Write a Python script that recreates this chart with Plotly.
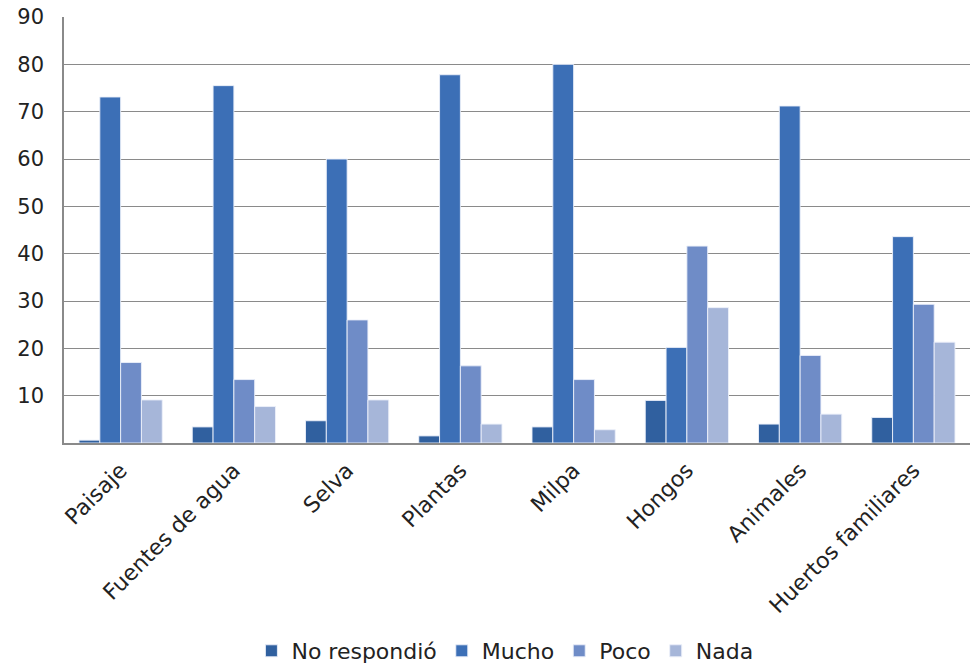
import plotly.graph_objects as go

categories = ["Paisaje", "Fuentes de agua", "Selva", "Plantas", "Milpa",
              "Hongos", "Animales", "Huertos familiares"]
no_respondio = [0.6, 3.4, 4.7, 1.5, 3.4, 9.0, 4.0, 5.4]
mucho = [73.1, 75.5, 60.0, 77.8, 80.0, 20.2, 71.2, 43.6]
poco = [17.0, 13.4, 26.0, 16.3, 13.4, 41.6, 18.5, 29.3]
nada = [9.1, 7.7, 9.1, 4.0, 2.8, 28.6, 6.1, 21.3]
y_ticks = [10, 20, 30, 40, 50, 60, 70, 80, 90]

series = [
    ("No respondió", no_respondio, "#30609F"),
    ("Mucho", mucho, "#3C6FB6"),
    ("Poco", poco, "#6F8CC7"),
    ("Nada", nada, "#A6B6D9"),
]

fig = go.Figure()
for name, vals, color in series:
    fig.add_trace(go.Bar(
        name=name, x=categories, y=vals,
        marker=dict(color=color, line=dict(color="rgba(235,240,250,0.9)", width=1)),
    ))

font_family = "DejaVu Sans, sans-serif"
fig.update_layout(
    width=971, height=672,
    margin=dict(l=64, r=1, t=17, b=229),
    paper_bgcolor="white", plot_bgcolor="white",
    barmode="group", bargap=0.265, bargroupgap=0,
    font=dict(family=font_family, size=21, color="#222222"),
    showlegend=True,
    legend=dict(orientation="h", xref="container", yref="container",
                x=0.52, xanchor="center", y=0, yanchor="bottom",
                font=dict(size=22, color="#222222"),
                itemwidth=30, traceorder="normal"),
    xaxis=dict(tickangle=-45, showline=True, linecolor="#8A8A8A", linewidth=1.5,
               ticks="", tickfont=dict(size=22), ticklabelstandoff=4),
    yaxis=dict(range=[0, 90], tickvals=y_ticks, showgrid=True, gridcolor="#8A8A8A",
               gridwidth=1.2, showline=True, linecolor="#8A8A8A", linewidth=1.5,
               ticks="", tickfont=dict(size=21), zeroline=False,
               ticklabelstandoff=14),
)

fig.write_html("out.html")
